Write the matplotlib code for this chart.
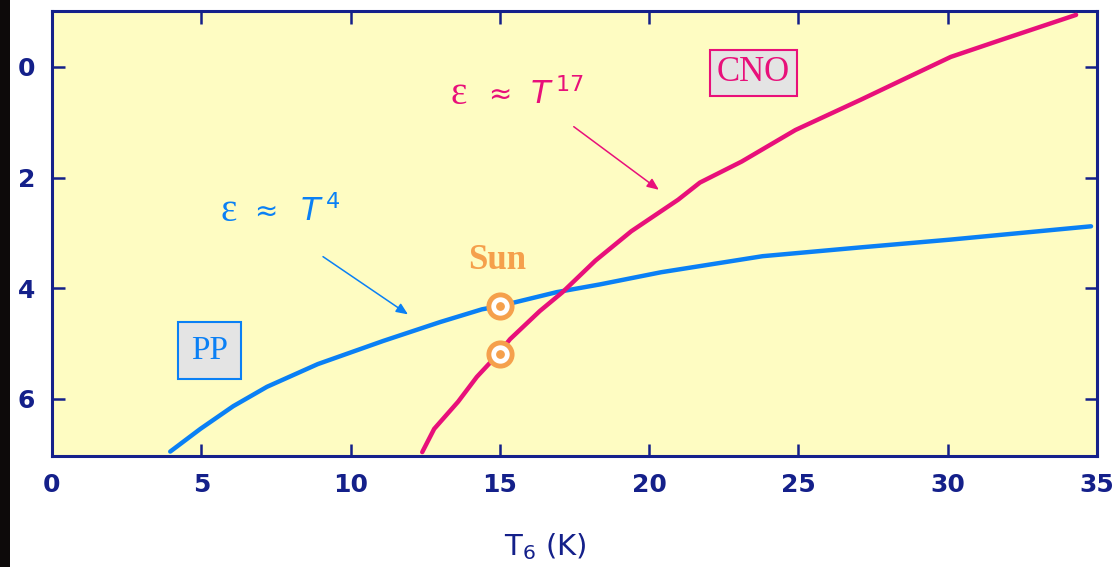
#!/usr/bin/env python3
"""Energy generation rate vs core temperature: PP chain vs CNO cycle."""

import matplotlib
matplotlib.use("Agg")
import matplotlib.pyplot as plt
from matplotlib.patches import Rectangle

# values (T6 in millions of K)
pp_t = [3.96, 4.97, 6.07, 7.2, 8.9, 11.1, 13.0, 14.4, 15.0, 16.9, 18.35, 20.4, 23.8, 27.1, 30.1, 34.8]
pp_eps = [6.95, 6.54, 6.13, 5.78, 5.37, 4.95, 4.61, 4.38, 4.32, 4.07, 3.93, 3.71, 3.42, 3.26, 3.12, 2.88]

cno_t = [12.4, 12.8, 13.6, 14.23, 14.94, 15.34, 16.34, 17.1, 18.2, 19.4, 20.97, 21.7, 23.1, 24.9,
         27.1, 28.5, 30.1, 31.8, 34.3]
cno_eps = [6.96, 6.54, 6.05, 5.6, 5.19, 4.92, 4.41, 4.07, 3.5, 2.97, 2.40, 2.09, 1.71, 1.14,
           0.59, 0.23, -0.18, -0.49, -0.94]

sun_t = [15.0, 15.0]
sun_eps = [4.32, 5.19]

x_ticks = [0, 5, 10, 15, 20, 25, 30, 35]
y_ticks = [0, 2, 4, 6]

NAVY = "#14208a"
BLUE = "#0a80f5"
PINK = "#e8107a"
ORANGE = "#f5a04c"

fig = plt.figure(figsize=(11.13, 5.67), dpi=100)
fig.patch.set_facecolor("white")
# dark strip on the far left edge
fig.patches.append(Rectangle((0, 0), 10 / 1113, 1, transform=fig.transFigure,
                             facecolor="#0d0a0a", edgecolor="none", zorder=0))

ax = fig.add_axes([52 / 1113, 1 - 456 / 567, 1045 / 1113, 445 / 567])
ax.set_facecolor("#fefcc2")
ax.set_xlim(0, 35)
ax.set_ylim(7.03, -1.01)

for s in ax.spines.values():
    s.set_color(NAVY)
    s.set_linewidth(2.2)

ax.set_xticks(x_ticks)
ax.set_yticks(y_ticks)
ax.tick_params(axis="both", direction="in", length=9, width=1.8, color=NAVY,
               top=True, right=True, labelcolor=NAVY, labelsize=18, pad=12)
for lab in ax.get_xticklabels() + ax.get_yticklabels():
    lab.set_fontweight("bold")

ax.plot(pp_t, pp_eps, color=BLUE, lw=3.2, solid_capstyle="round", zorder=3)
ax.plot(cno_t, cno_eps, color=PINK, lw=3.2, solid_capstyle="round", zorder=3)

# Sun markers: orange ring, white inside, orange dot
ax.scatter(sun_t, sun_eps, s=280, facecolor="white", edgecolor=ORANGE, linewidths=3.5, zorder=5)
ax.scatter(sun_t, sun_eps, s=28, color=ORANGE, zorder=6)
ax.text(14.9, 3.5, "Sun", color=ORANGE, fontsize=25, fontweight="bold",
        family="Liberation Serif", ha="center", va="center")

# "eps ~ T^n" labels, epsilon drawn larger like the original
for (ex, ax_x, tx, y, sup, col) in [(5.9, 7.17, 8.3, 2.62, "4", BLUE),
                                    (13.63, 15.0, 16.0, 0.5, "17", PINK)]:
    ax.text(ex, y, "ε", color=col, fontsize=28, family="Liberation Serif",
            ha="center", va="center")
    ax.text(ax_x, y, "≈", color=col, fontsize=20, family="DejaVu Sans",
            ha="center", va="center")
    ax.text(tx, y, r"$\mathit{T}^{\,%s}$" % sup, color=col, fontsize=23,
            ha="left", va="center")

ax.annotate("", xy=(12.0, 4.5), xytext=(9.0, 3.4),
            arrowprops=dict(arrowstyle="-|>,head_length=0.7,head_width=0.3", color=BLUE, lw=1.1))
ax.annotate("", xy=(20.4, 2.25), xytext=(17.4, 1.05),
            arrowprops=dict(arrowstyle="-|>,head_length=0.7,head_width=0.3", color=PINK, lw=1.1))

ax.text(5.27, 5.12, "PP", color=BLUE, fontsize=24, family="Liberation Serif",
        ha="center", va="center",
        bbox=dict(boxstyle="square,pad=0.4", facecolor="#e4e4e4", edgecolor=BLUE, lw=1.5))
ax.text(23.5, 0.11, "CNO", color=PINK, fontsize=25, family="Liberation Serif",
        ha="center", va="center",
        bbox=dict(boxstyle="square,pad=0.2", facecolor="#e4e4e4", edgecolor=PINK, lw=1.5))

ax.set_xlabel(r"T$_6$ (K)", color=NAVY, fontsize=21)
ax.xaxis.set_label_coords((545 - 52) / 1045, -0.17)

fig.savefig("out.png", dpi=100)
